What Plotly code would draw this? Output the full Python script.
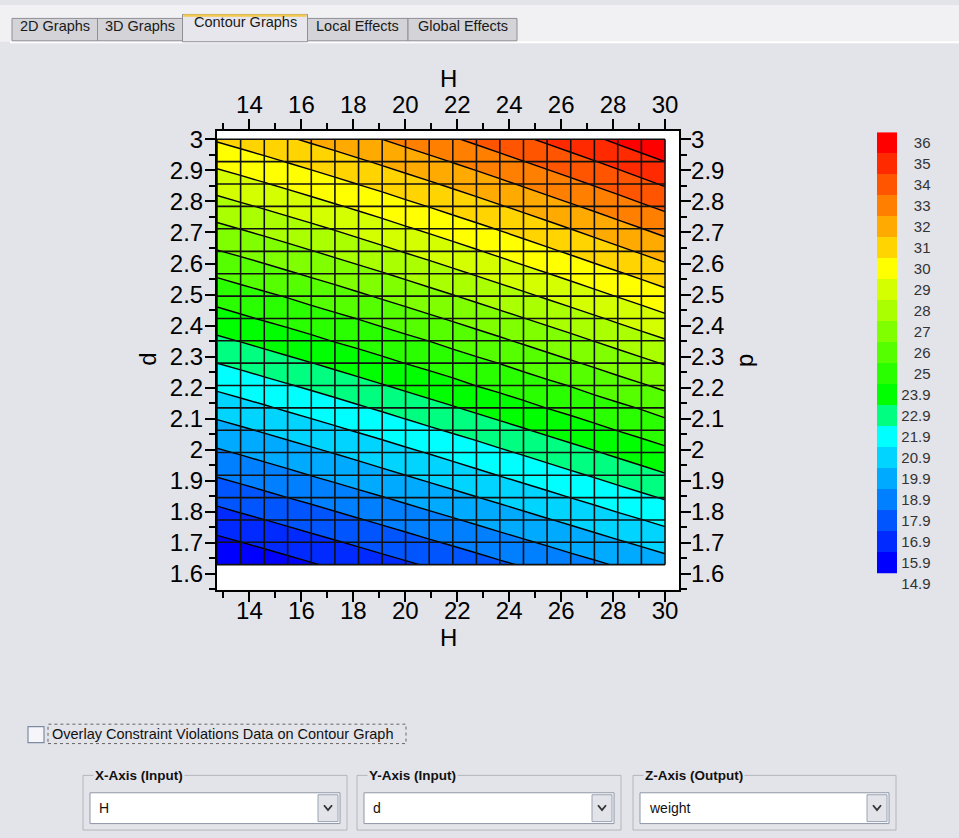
import numpy as np
import plotly.graph_objects as go

# ---------------- data ----------------
H = [12.75, 13.66, 14.57, 15.47, 16.38, 17.29, 18.20, 19.11, 20.01, 20.92,
     21.83, 22.74, 23.64, 24.55, 25.46, 26.37, 27.28, 28.18, 29.09, 30.00]
d = [1.630, 1.702, 1.774, 1.846, 1.918, 1.991, 2.063, 2.135, 2.207, 2.279,
     2.351, 2.423, 2.495, 2.567, 2.639, 2.712, 2.784, 2.856, 2.928, 3.000]
# weight[j][i] : row j -> d[j], column i -> H[i]
weight = [
    [14.90, 15.13, 15.36, 15.59, 15.82, 16.05, 16.29, 16.53, 16.76, 17.00, 17.25, 17.49, 17.74, 17.98, 18.23, 18.48, 18.73, 18.99, 19.24, 19.50],
    [15.66, 15.89, 16.12, 16.35, 16.59, 16.82, 17.06, 17.30, 17.54, 17.79, 18.03, 18.28, 18.53, 18.78, 19.03, 19.29, 19.54, 19.80, 20.06, 20.32],
    [16.43, 16.66, 16.89, 17.12, 17.36, 17.60, 17.84, 18.08, 18.32, 18.57, 18.82, 19.07, 19.32, 19.58, 19.84, 20.09, 20.36, 20.62, 20.88, 21.15],
    [17.19, 17.43, 17.66, 17.90, 18.13, 18.37, 18.62, 18.86, 19.11, 19.36, 19.61, 19.87, 20.12, 20.38, 20.64, 20.91, 21.17, 21.44, 21.71, 21.98],
    [17.97, 18.20, 18.44, 18.67, 18.92, 19.16, 19.40, 19.65, 19.90, 20.15, 20.41, 20.67, 20.93, 21.19, 21.46, 21.72, 21.99, 22.27, 22.54, 22.82],
    [18.75, 18.98, 19.22, 19.46, 19.70, 19.94, 20.19, 20.44, 20.70, 20.95, 21.21, 21.47, 21.74, 22.00, 22.27, 22.55, 22.82, 23.10, 23.38, 23.66],
    [19.53, 19.76, 20.00, 20.24, 20.49, 20.74, 20.99, 21.24, 21.50, 21.76, 22.02, 22.28, 22.55, 22.82, 23.10, 23.37, 23.65, 23.93, 24.22, 24.51],
    [20.31, 20.55, 20.79, 21.04, 21.28, 21.53, 21.79, 22.04, 22.30, 22.56, 22.83, 23.10, 23.37, 23.64, 23.92, 24.20, 24.49, 24.77, 25.06, 25.36],
    [21.11, 21.34, 21.59, 21.83, 22.08, 22.33, 22.59, 22.85, 23.11, 23.38, 23.64, 23.92, 24.19, 24.47, 24.75, 25.04, 25.33, 25.62, 25.91, 26.21],
    [21.90, 22.14, 22.39, 22.63, 22.88, 23.14, 23.40, 23.66, 23.92, 24.19, 24.46, 24.74, 25.02, 25.30, 25.59, 25.88, 26.17, 26.47, 26.77, 27.07],
    [22.70, 22.94, 23.19, 23.44, 23.69, 23.95, 24.21, 24.47, 24.74, 25.01, 25.29, 25.57, 25.85, 26.14, 26.43, 26.72, 27.02, 27.32, 27.62, 27.93],
    [23.51, 23.75, 24.00, 24.25, 24.50, 24.76, 25.03, 25.29, 25.56, 25.84, 26.12, 26.40, 26.68, 26.98, 27.27, 27.57, 27.87, 28.18, 28.49, 28.80],
    [24.31, 24.56, 24.81, 25.06, 25.32, 25.58, 25.85, 26.12, 26.39, 26.67, 26.95, 27.24, 27.53, 27.82, 28.12, 28.42, 28.73, 29.04, 29.35, 29.67],
    [25.13, 25.37, 25.62, 25.88, 26.14, 26.40, 26.67, 26.94, 27.22, 27.50, 27.79, 28.08, 28.37, 28.67, 28.97, 29.28, 29.59, 29.90, 30.22, 30.55],
    [25.95, 26.19, 26.45, 26.70, 26.96, 27.23, 27.50, 27.78, 28.06, 28.34, 28.63, 28.92, 29.22, 29.52, 29.83, 30.14, 30.46, 30.78, 31.10, 31.43],
    [26.77, 27.02, 27.27, 27.53, 27.79, 28.06, 28.34, 28.61, 28.90, 29.18, 29.47, 29.77, 30.07, 30.38, 30.69, 31.01, 31.33, 31.65, 31.98, 32.31],
    [27.59, 27.85, 28.10, 28.36, 28.63, 28.90, 29.17, 29.45, 29.74, 30.03, 30.33, 30.63, 30.93, 31.24, 31.56, 31.88, 32.20, 32.53, 32.87, 33.21],
    [28.43, 28.68, 28.94, 29.20, 29.47, 29.74, 30.02, 30.30, 30.59, 30.88, 31.18, 31.48, 31.79, 32.11, 32.43, 32.75, 33.08, 33.41, 33.75, 34.10],
    [29.26, 29.51, 29.77, 30.04, 30.31, 30.58, 30.86, 31.15, 31.44, 31.74, 32.04, 32.35, 32.66, 32.98, 33.30, 33.63, 33.96, 34.30, 34.65, 35.00],
    [30.10, 30.36, 30.62, 30.88, 31.16, 31.43, 31.72, 32.00, 32.30, 32.60, 32.90, 33.21, 33.53, 33.85, 34.18, 34.51, 34.85, 35.20, 35.55, 35.90],
]
levels = [14.9, 15.9, 16.9, 17.9, 18.9, 19.9, 20.9, 21.9, 22.9, 23.9,
          25, 26, 27, 28, 29, 30, 31, 32, 33, 34, 35, 36]
band_colors = ["#0000FF", "#002AFF", "#0055FF", "#0080FF", "#00AAFF", "#00D4FF",
               "#00FFFF", "#00FF80", "#00FF00", "#2AFF00", "#55FF00", "#80FF00",
               "#AAFF00", "#D4FF00", "#FFFF00", "#FFD400", "#FFAA00", "#FF8000",
               "#FF5500", "#FF2A00", "#FF0000"]
x_title = "H"
y_title = "d"
tab_labels = ["2D Graphs", "3D Graphs", "Contour Graphs", "Local Effects", "Global Effects"]
selected_tab = "Contour Graphs"
checkbox_label = "Overlay Constraint Violations Data on Contour Graph"
selectors = [("X-Axis (Input)", "H"), ("Y-Axis (Input)", "d"), ("Z-Axis (Output)", "weight")]

# ---------------- helpers ----------------
FW, FH = 959, 838
BG = "#E3E3EA"
FONT = "Liberation Sans, Arial, sans-serif"


def px(x):
    return x / FW


def py(y):
    return 1 - y / FH


# contour on level-index scale so the non-uniform level list is honoured
z_idx = np.interp(np.array(weight), levels, np.arange(len(levels)))
nb = len(band_colors)
fill_scale = [[0, band_colors[0]]]
for k, c in enumerate(band_colors):
    fill_scale.append([(k + 1) / (nb + 1), c])
fill_scale.append([1, band_colors[-1]])

step_scale = []
for k, c in enumerate(band_colors):
    step_scale.append([k / nb, c])
    step_scale.append([(k + 1) / nb, c])

fig = go.Figure()

fig.add_trace(go.Contour(
    x=H, y=d, z=z_idx, autocontour=False,
    contours=dict(start=0, end=len(levels) - 1, size=1, coloring="fill", showlines=True),
    colorscale=fill_scale, line=dict(color="black", width=1.4, smoothing=0),
    showscale=False, hoverinfo="skip", xaxis="x", yaxis="y"))

gx, gy = [], []
for h in H:
    gx += [h, h, None]
    gy += [d[0], d[-1], None]
fig.add_trace(go.Scatter(x=gx, y=gy, mode="lines", line=dict(color="#111", width=1.6),
                         hoverinfo="skip", showlegend=False, xaxis="x2", yaxis="y"))
hx, hy = [], []
for v in d:
    hx += [H[0], H[-1], None]
    hy += [v, v, None]
fig.add_trace(go.Scatter(x=hx, y=hy, mode="lines", line=dict(color="#111", width=1.6),
                         hoverinfo="skip", showlegend=False, xaxis="x", yaxis="y2"))

# colour legend bar
fig.add_trace(go.Heatmap(z=[[k] for k in range(nb)], x=[0], y=list(range(nb)),
                         colorscale=step_scale, zmin=-0.5, zmax=nb - 0.5, showscale=False,
                         hoverinfo="skip", xaxis="x3", yaxis="y3"))

tickfont = dict(family=FONT, size=24, color="black")
xdom = [px(217), px(679.3)]
ydom = [py(588.3), py(126.7)]
xr = [12.75, 30.55]
yr = [1.549, 3.027]


def xax(side, standoff, **kw):
    return dict(domain=xdom, range=xr, side=side, tick0=14, dtick=2, ticks="outside",
                ticklen=10, tickwidth=1.5, tickcolor="black", showline=True,
                linecolor="black", linewidth=2, showgrid=False, zeroline=False,
                tickfont=tickfont, ticklabelstandoff=standoff,
                minor=dict(tick0=13, dtick=1, ticks="outside", ticklen=6, tickwidth=1.5,
                           tickcolor="black", showgrid=False), **kw)


def yax(side, standoff, **kw):
    return dict(domain=ydom, range=yr, side=side, tick0=1.6, dtick=0.1, ticks="outside",
                ticklen=10, tickwidth=1.5, tickcolor="black", showline=True,
                linecolor="black", linewidth=2, showgrid=False, zeroline=False,
                tickfont=tickfont, ticklabelstandoff=standoff,
                minor=dict(tick0=1.55, dtick=0.05, ticks="outside", ticklen=6, tickwidth=1.5,
                           tickcolor="black", showgrid=False), **kw)


shapes = []
annotations = []

# white plotting field
shapes.append(dict(type="rect", xref="paper", yref="paper", x0=xdom[0], x1=xdom[1],
                   y0=ydom[0], y1=ydom[1], fillcolor="white", line=dict(width=0), layer="below"))

# top strip and tabs
shapes.append(dict(type="rect", xref="paper", yref="paper", x0=0, x1=1, y0=py(37), y1=1,
                   fillcolor="#F1F1F4", line=dict(width=0), layer="below"))
shapes.append(dict(type="line", xref="paper", yref="paper", x0=px(10), x1=1, y0=py(37.5), y1=py(37.5),
                   line=dict(color="white", width=2), layer="below"))
tab_edges = [12, 97.5, 182.5, 307.5, 408, 517]
for i, lab in enumerate(tab_labels):
    x0, x1 = tab_edges[i], tab_edges[i + 1]
    sel = lab == selected_tab
    top = 9.5 if sel else 13.5
    shapes.append(dict(type="rect", xref="paper", yref="paper", x0=px(x0), x1=px(x1),
                       y0=py(37 if sel else 36), y1=py(top),
                       fillcolor=("#E6E6EC" if sel else "#D3D3D8"),
                       line=dict(color="#8E8E96", width=1), layer="below"))
    if sel:
        shapes.append(dict(type="line", xref="paper", yref="paper", x0=px(x0 + 1), x1=px(x1 - 1),
                           y0=py(top + 1), y1=py(top + 1), line=dict(color="#F2C94C", width=2.5),
                           layer="below"))
    annotations.append(dict(text=lab, x=px((x0 + x1) / 2), y=py(17.5 if sel else 21.5),
                            xref="paper", yref="paper", showarrow=False, xanchor="center",
                            yanchor="middle", font=dict(family=FONT, size=14.5, color="#1A1A1A")))

# axis titles
annotations += [
    dict(text=x_title, x=px(448), y=py(73.5), xref="paper", yref="paper", showarrow=False,
         xanchor="center", yanchor="middle", font=tickfont),
    dict(text=x_title, x=px(448), y=py(636.5), xref="paper", yref="paper", showarrow=False,
         xanchor="center", yanchor="middle", font=tickfont),
    dict(text=y_title, x=px(148), y=py(357), xref="paper", yref="paper", showarrow=False,
         xanchor="center", yanchor="middle", textangle=-90, font=tickfont),
    dict(text=y_title, x=px(748), y=py(357), xref="paper", yref="paper", showarrow=False,
         xanchor="center", yanchor="middle", textangle=90, font=tickfont),
]

# checkbox row
shapes.append(dict(type="rect", xref="paper", yref="paper", x0=px(28), x1=px(44), y0=py(742), y1=py(726),
                   fillcolor="#F6F6FA", line=dict(color="#7C8CA4", width=1.2)))
shapes.append(dict(type="rect", xref="paper", yref="paper", x0=px(48), x1=px(406), y0=py(743), y1=py(723.5),
                   fillcolor="rgba(0,0,0,0)", line=dict(color="#666", width=1, dash="dot")))
annotations.append(dict(text=checkbox_label, x=px(50), y=py(733), xref="paper", yref="paper",
                        showarrow=False, xanchor="left", yanchor="middle",
                        font=dict(family=FONT, size=14.5, color="#111")))

# selector group boxes
boxes = [(83, 347), (357, 621), (633, 896)]
for (bx0, bx1), (title, val) in zip(boxes, selectors):
    shapes.append(dict(type="rect", xref="paper", yref="paper", x0=px(bx0), x1=px(bx1),
                       y0=py(830), y1=py(775), fillcolor="rgba(0,0,0,0)",
                       line=dict(color="#B4B4BC", width=1)))
    annotations.append(dict(text="<b>" + title + "</b>", x=px(bx0 + 10), y=py(775), xref="paper",
                            yref="paper", showarrow=False, xanchor="left", yanchor="middle",
                            bgcolor=BG, borderpad=1,
                            font=dict(family=FONT, size=13.5, color="#111")))
    shapes.append(dict(type="rect", xref="paper", yref="paper", x0=px(bx0 + 7), x1=px(bx1 - 7),
                       y0=py(823.5), y1=py(792.5), fillcolor="white",
                       line=dict(color="#8E96A6", width=1)))
    shapes.append(dict(type="rect", xref="paper", yref="paper", x0=px(bx1 - 29), x1=px(bx1 - 9),
                       y0=py(821.5), y1=py(794.5), fillcolor="#E2E4EA",
                       line=dict(color="#9AA2B2", width=1)))
    shapes.append(dict(type="path", xref="paper", yref="paper",
                       path=f"M {px(bx1 - 23)} {py(805)} L {px(bx1 - 19)} {py(810)} L {px(bx1 - 15)} {py(805)}",
                       line=dict(color="#333", width=1.8)))
    annotations.append(dict(text=val, x=px(bx0 + 14), y=py(808), xref="paper", yref="paper",
                            showarrow=False, xanchor="left", yanchor="middle",
                            font=dict(family=FONT, size=14, color="#111")))

fig.update_layout(
    width=FW, height=FH, margin=dict(l=0, r=0, t=0, b=0),
    paper_bgcolor=BG, plot_bgcolor="rgba(0,0,0,0)", showlegend=False,
    xaxis=xax("bottom", -12, anchor="y"),
    xaxis2=xax("top", -4, anchor="y", overlaying="x"),
    yaxis=yax("left", -3, anchor="x"),
    yaxis2=yax("right", -5, anchor="x", overlaying="y"),
    xaxis3=dict(domain=[px(877), px(897)], range=[-0.5, 0.5], anchor="y3", visible=False),
    yaxis3=dict(domain=[py(592.4), py(128)], range=[-1.5, nb - 0.5], anchor="free",
                position=px(930.5), side="left", tickvals=list(range(-1, nb)),
                ticktext=[f"{v:g}" for v in levels], ticks="", showline=False,
                showgrid=False, zeroline=False,
                tickfont=dict(family=FONT, size=15, color="#333")),
    shapes=shapes, annotations=annotations,
)

fig.write_html(
    "out.html",
    config={"displayModeBar": False},
    post_script="document.body.style.margin='0px';document.body.style.padding='0px';"
                "document.body.style.background='" + BG + "';",
)
